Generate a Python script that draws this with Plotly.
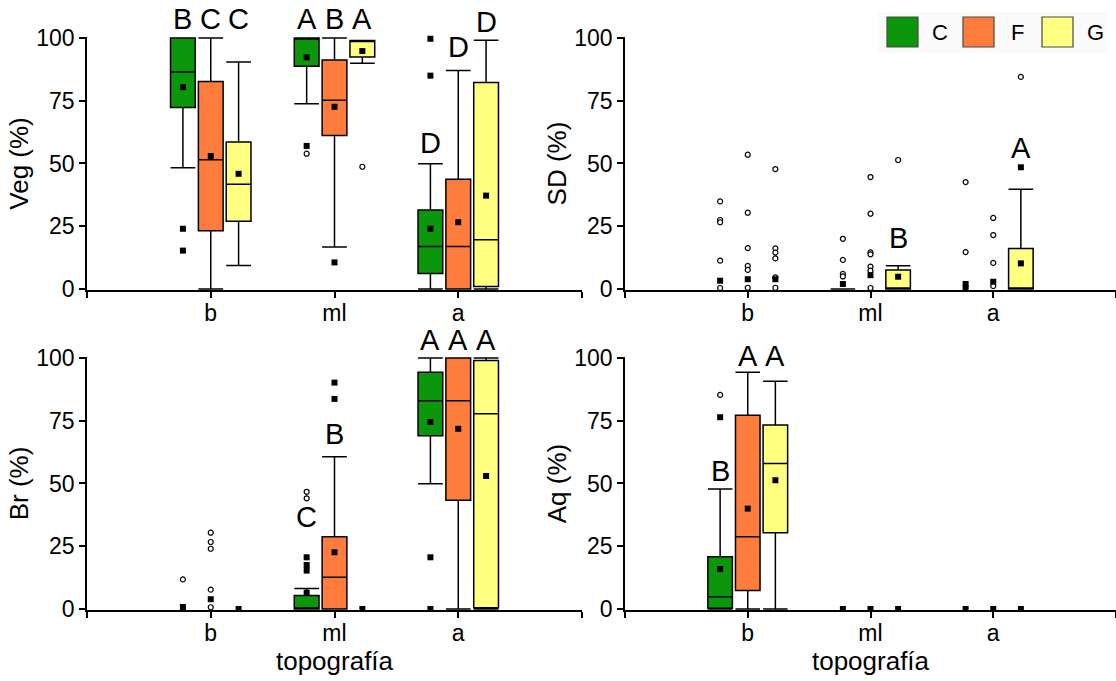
import plotly.graph_objects as go

# ---------------------------------------------------------------- data
CATS = ["b", "ml", "a"]
GROUPS = ["C", "F", "G"]
COLORS = ["#0c960c", "#ff7d3c", "#ffff80"]

# every list below is ordered b-C, b-F, b-G, ml-C, ml-F, ml-G, a-C, a-F, a-G
# None = no box drawn for that group

# Veg (%)
VEG_Q1 = [72.3, 23.2, 27.0, 88.7, 61.2, 92.4, 6.2, 0.0, 1.0]
VEG_MED = [86.5, 51.5, 41.7, 100.0, 75.2, 99.0, 16.9, 16.9, 19.6]
VEG_Q3 = [100.0, 82.7, 58.6, 100.0, 91.2, 99.0, 31.5, 43.7, 82.3]
VEG_LO = [48.3, 0.0, 9.4, 73.8, 16.7, 89.9, 0.0, 0.0, 0.0]
VEG_HI = [100.0, 100.0, 90.4, 100.0, 100.0, 99.0, 49.9, 87.1, 99.1]
VEG_MEAN = [80.4, 53.0, 45.9, 92.3, 72.6, 94.8, 24.0, 26.6, 37.2]
VEG_EXT = [[24.0, 15.3], [], [], [57.0], [10.6], [], [99.7, 85.0], [], []]
VEG_OUT = [[], [], [], [53.9], [], [48.7], [], [], []]
VEG_LET = ["B", "C", "C", "A", "B", "A", "D", "D", "D"]
VEG_LET_Y = [101.6, 101.6, 101.6, 101.6, 101.6, 101.6, 52.1, 90.3, 100.5]

# SD (%)
SD_Q1 = [None, None, None, 0.0, None, 0.0, None, None, 0.0]
SD_MED = [None, None, None, 0.0, None, 0.0, None, None, 0.0]
SD_Q3 = [None, None, None, 0.0, None, 7.6, None, None, 16.1]
SD_LO = [None, None, None, 0.0, None, 0.0, None, None, 0.0]
SD_HI = [None, None, None, 0.0, None, 9.3, None, None, 39.7]
SD_MEAN = [3.3, 3.9, 3.9, 2.0, 5.5, 4.9, 2.0, 2.9, 10.2]
SD_EXT = [[], [], [], [], [], [], [0.2], [], [48.5]]
SD_OUT = [
    [34.9, 27.5, 26.6, 11.3, 0.4],
    [53.5, 30.4, 16.3, 9.2, 7.6, 0.5],
    [47.8, 16.2, 14.5, 12.2, 4.6, 0.5],
    [20.0, 11.6, 6.0, 5.0],
    [44.6, 30.0, 14.6, 13.8, 8.9, 7.3, 0.4],
    [51.4],
    [42.6, 14.7],
    [28.3, 21.5, 10.4, 1.2],
    [84.5],
]
SD_LET = ["", "", "", "", "", "B", "", "", "A"]
SD_LET_Y = [None, None, None, None, None, 14.3, None, None, 50.1]

# Br (%)
BR_Q1 = [None, None, None, 0.0, 0.0, None, 69.0, 43.3, 0.5]
BR_MED = [None, None, None, 0.0, 12.7, None, 83.0, 83.0, 77.8]
BR_Q3 = [None, None, None, 5.4, 28.8, None, 94.3, 100.0, 99.0]
BR_LO = [None, None, None, 0.0, 0.0, None, 49.9, 0.0, 0.0]
BR_HI = [None, None, None, 8.2, 60.7, None, 100.0, 100.0, 100.0]
BR_MEAN = [0.8, 3.9, 0.0, 6.5, 22.6, 0.0, 74.5, 71.8, 53.0]
BR_EXT = [[], [], [], [20.6, 17.5, 15.3], [90.2, 83.7], [], [20.6, 0.0], [], []]
BR_OUT = [[11.8], [30.4, 26.7, 24.0, 7.7, 0.7], [], [46.7, 44.1], [], [], [], [], []]
BR_LET = ["", "", "", "C", "B", "", "A", "A", "A"]
BR_LET_Y = [None, None, None, 30.8, 63.7, None, 101.2, 101.2, 101.2]

# Aq (%)
AQ_Q1 = [0.3, 7.4, 30.4, None, None, None, None, None, None]
AQ_MED = [4.9, 28.8, 58.0, None, None, None, None, None, None]
AQ_Q3 = [20.8, 77.2, 73.3, None, None, None, None, None, None]
AQ_LO = [0.0, 0.0, 0.0, None, None, None, None, None, None]
AQ_HI = [47.8, 94.3, 90.7, None, None, None, None, None, None]
AQ_MEAN = [15.9, 40.0, 51.3, 0.0, 0.0, 0.0, 0.0, 0.0, 0.0]
AQ_EXT = [[76.4], [], [], [], [], [], [], [], []]
AQ_OUT = [[85.3], [], [], [], [], [], [], [], []]
AQ_LET = ["B", "A", "A", "", "", "", "", "", ""]
AQ_LET_Y = [49.1, 94.9, 94.9, None, None, None, None, None, None]

# ---------------------------------------------------------------- layout helpers
W, H = 1116, 681
FONT = "Liberation Sans, Arial, sans-serif"
OFFSETS = [-0.225, 0.0, 0.225]
BOX_W = 0.2
YPAD = 0.4
Y_MIN, Y_MAX = -YPAD, 100 + YPAD


def xdom(px_left, px_right):
    return [px_left / W, min(px_right / W, 1.0)]


def ydom(px_zero, px_hundred):
    per = (px_zero - px_hundred) / 100.0
    bottom = px_zero + YPAD * per
    top = px_hundred - YPAD * per
    return [1 - bottom / H, 1 - top / H]


def to_domain(v):
    # value on the 0-100 scale -> fraction of the y-axis domain
    return (v - Y_MIN) / (Y_MAX - Y_MIN)


fig = go.Figure()


def panel(ax, q1, med, q3, lo, hi, mean, ext, out, letters, letter_y):
    xa = "x" if ax == 1 else f"x{ax}"
    ya = "y" if ax == 1 else f"y{ax}"
    for k in range(9):
        ci, gi = divmod(k, 3)
        pos = ci + OFFSETS[gi]
        if q1[k] is not None:
            fig.add_trace(go.Box(
                x=[pos], q1=[q1[k]], median=[med[k]], q3=[q3[k]],
                lowerfence=[lo[k]], upperfence=[hi[k]],
                width=BOX_W, whiskerwidth=1.0, boxpoints=False,
                fillcolor=COLORS[gi], line=dict(color="black", width=1.5),
                xaxis=xa, yaxis=ya, showlegend=False, hoverinfo="skip",
            ))
    # open circles (outliers)
    cx, cy = [], []
    for k in range(9):
        ci, gi = divmod(k, 3)
        for v in out[k]:
            cx.append(ci + OFFSETS[gi])
            cy.append(v)
    if cx:
        fig.add_trace(go.Scatter(
            x=cx, y=cy, mode="markers", cliponaxis=False,
            marker=dict(symbol="circle", size=5, color="white",
                        line=dict(color="black", width=1.2)),
            xaxis=xa, yaxis=ya, showlegend=False, hoverinfo="skip",
        ))
    # filled squares (extremes + means)
    sx, sy = [], []
    for k in range(9):
        ci, gi = divmod(k, 3)
        for v in ext[k] + [mean[k]]:
            sx.append(ci + OFFSETS[gi])
            sy.append(v)
    fig.add_trace(go.Scatter(
        x=sx, y=sy, mode="markers", cliponaxis=False,
        marker=dict(symbol="square", size=6, color="black", line=dict(width=0)),
        xaxis=xa, yaxis=ya, showlegend=False, hoverinfo="skip",
    ))
    # significance letters (domain-referenced so they may sit above 100)
    for k in range(9):
        if letters[k]:
            ci, gi = divmod(k, 3)
            fig.add_annotation(
                x=ci + OFFSETS[gi], xref=xa,
                y=to_domain(letter_y[k]), yref=f"{ya} domain",
                text=letters[k], showarrow=False, yanchor="bottom",
                borderpad=0, yshift=-2,
                font=dict(family=FONT, size=29, color="black"),
            )


panel(1, VEG_Q1, VEG_MED, VEG_Q3, VEG_LO, VEG_HI, VEG_MEAN, VEG_EXT, VEG_OUT, VEG_LET, VEG_LET_Y)
panel(2, SD_Q1, SD_MED, SD_Q3, SD_LO, SD_HI, SD_MEAN, SD_EXT, SD_OUT, SD_LET, SD_LET_Y)
panel(3, BR_Q1, BR_MED, BR_Q3, BR_LO, BR_HI, BR_MEAN, BR_EXT, BR_OUT, BR_LET, BR_LET_Y)
panel(4, AQ_Q1, AQ_MED, AQ_Q3, AQ_LO, AQ_HI, AQ_MEAN, AQ_EXT, AQ_OUT, AQ_LET, AQ_LET_Y)

axis_common = dict(
    showline=True, linecolor="black", linewidth=1.5,
    ticks="outside", ticklen=6, tickwidth=1.5, tickcolor="black",
    showgrid=False, zeroline=False, automargin=False,
    tickfont=dict(family=FONT, size=23, color="black"),
)

xticks = dict(tickmode="array", tickvals=[-1, 0, 1, 2, 3],
              ticktext=["", CATS[0], CATS[1], CATS[2], ""], range=[-1, 3],
              ticklabelstandoff=-4)
yticks = dict(tickmode="array", tickvals=[0, 25, 50, 75, 100],
              range=[Y_MIN, Y_MAX])

title_font = dict(family=FONT, size=26, color="black")

layout = dict(
    width=W, height=H, margin=dict(l=0, r=0, t=0, b=0, autoexpand=False),
    paper_bgcolor="white", plot_bgcolor="white",
    boxmode="overlay", showlegend=False,
    font=dict(family=FONT, color="black"),
)

left_x = xdom(87, 582)
right_x = xdom(625, 1117)
top_y = ydom(289, 38)
bot_y = ydom(609, 358)

specs = [
    (1, left_x, top_y, "Veg (%)", None),
    (2, right_x, top_y, "SD (%)", None),
    (3, left_x, bot_y, "Br (%)", "topografía"),
    (4, right_x, bot_y, "Aq (%)", "topografía"),
]
for n, xd, yd, ytitle, xtitle in specs:
    xk = "xaxis" if n == 1 else f"xaxis{n}"
    yk = "yaxis" if n == 1 else f"yaxis{n}"
    ya = "y" if n == 1 else f"y{n}"
    xa = "x" if n == 1 else f"x{n}"
    xdict = dict(axis_common, **xticks, domain=xd, anchor=ya)
    if xtitle:
        xdict["title"] = dict(text=xtitle, font=title_font, standoff=2)
    layout[xk] = xdict
    layout[yk] = dict(axis_common, **yticks, domain=yd, anchor=xa,
                      title=dict(text=ytitle, font=title_font, standoff=0))

fig.update_layout(**layout)

# legend drawn as swatches in paper space
LEG_SWATCH_X = [887, 963, 1042]
LEG_TEXT_X = [940, 1017, 1095]
fig.add_shape(type="rect", xref="paper", yref="paper",
              x0=878 / W, x1=1108 / W, y0=1 - 53 / H, y1=1 - 12 / H,
              fillcolor="#fafafa", line=dict(width=0), layer="below")
for gi, g in enumerate(GROUPS):
    fig.add_shape(type="rect", xref="paper", yref="paper",
                  x0=LEG_SWATCH_X[gi] / W, x1=(LEG_SWATCH_X[gi] + 31) / W,
                  y0=1 - 47 / H, y1=1 - 17 / H,
                  fillcolor=COLORS[gi], line=dict(color="#4a4a3a", width=1.2))
    fig.add_annotation(x=LEG_TEXT_X[gi] / W, y=1 - 32 / H, xref="paper", yref="paper",
                       text=g, showarrow=False, xanchor="center", yanchor="middle",
                       font=dict(family=FONT, size=22, color="black"))

fig.write_html("out.html")
